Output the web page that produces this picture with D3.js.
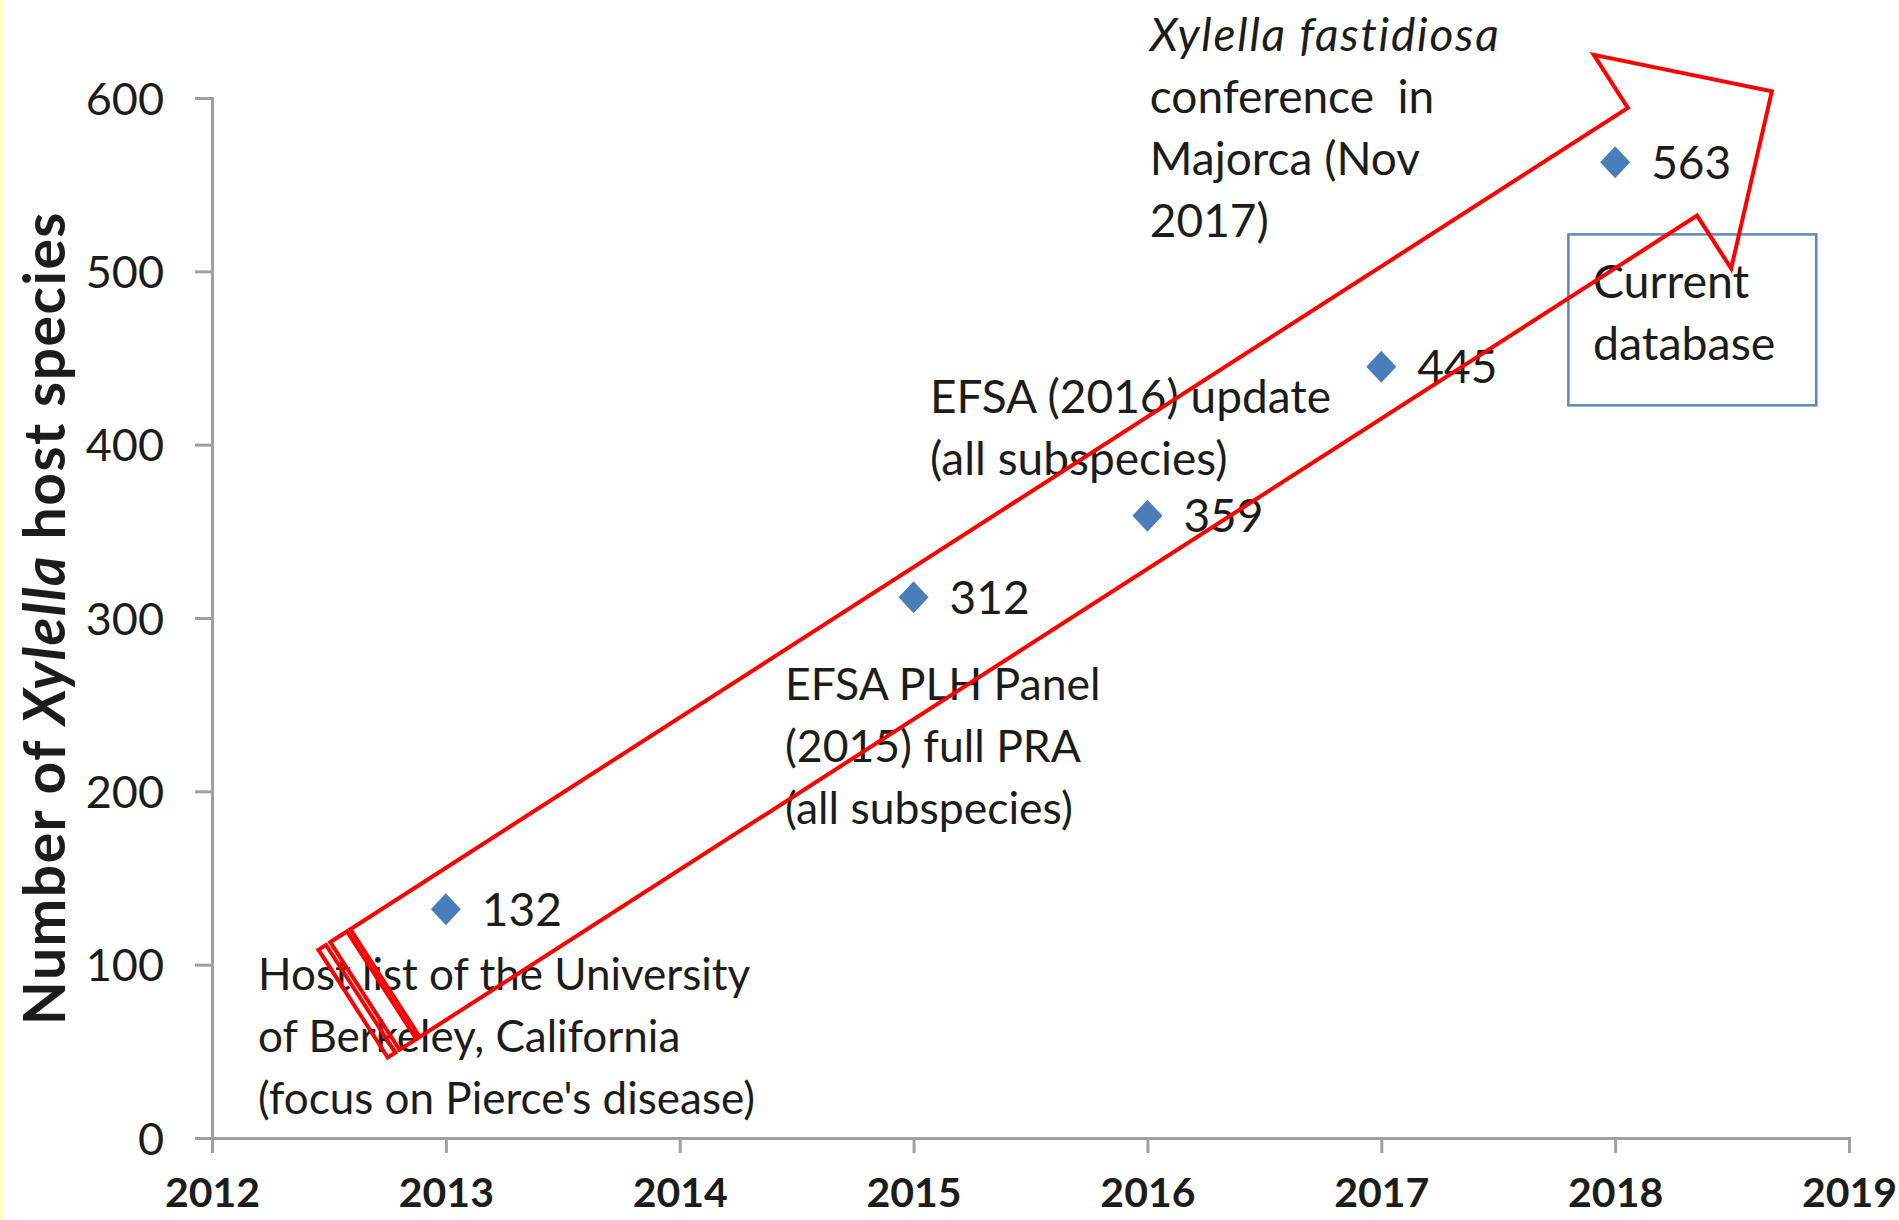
<!DOCTYPE html>
<html>
<head>
<meta charset="utf-8">
<script src="https://cdn.jsdelivr.net/npm/d3@7"></script>
<style>
  html, body { margin: 0; padding: 0; background: #fff; }
  svg { display: block; font-family: Lato, "Open Sans", sans-serif; }
</style>
</head>
<body>
<div id="chart"></div>
<script>
// data
const years = [2013, 2015, 2016, 2017, 2018];
const hostCounts = [132, 312, 359, 445, 563];
const xTickYears = [2012, 2013, 2014, 2015, 2016, 2017, 2018, 2019];
const yTickValues = [0, 100, 200, 300, 400, 500, 600];

const noteBerkeley = ["Host list of the University", "of Berkeley, California", "(focus on Pierce's disease)"];
const notePanel = ["EFSA PLH Panel", "(2015) full PRA", "(all subspecies)"];
const noteUpdate = ["EFSA (2016) update", "(all subspecies)"];
const noteMajorca = ["Xylella fastidiosa", "conference  in", "Majorca (Nov", "2017)"];
const noteCurrent = ["Current", "database"];

// layout
const width = 1899, height = 1220;
const margin = {top: 98, right: 50, bottom: 82, left: 212};
const axisColor = "#a0a0a0";
const textColor = "#1c1c1c";
const markerColor = "#4a7ebb";
const lineStep = 62;

const svg = d3.select("#chart").append("svg")
    .attr("width", width)
    .attr("height", height);

svg.append("rect").attr("width", width).attr("height", height).attr("fill", "#fff");
// thin yellow strip at the left edge of the slide
svg.append("rect").attr("width", 4).attr("height", height).attr("fill", "#ffffc4");

const x = d3.scaleLinear()
    .domain([2012, 2019])
    .range([margin.left, width - margin.right]);

const y = d3.scaleLinear()
    .domain([0, 600])
    .range([height - margin.bottom, margin.top]);

// axes
const xAxis = svg.append("g")
    .attr("transform", "translate(0," + y(0) + ")")
    .call(d3.axisBottom(x).tickValues(xTickYears).tickFormat(d3.format("d"))
        .tickSize(15).tickPadding(25));

const yAxis = svg.append("g")
    .attr("transform", "translate(" + x(2012) + ",0)")
    .call(d3.axisLeft(y).tickValues(yTickValues).tickSize(17).tickPadding(31));

[xAxis, yAxis].forEach(function(a) {
    a.select(".domain").attr("stroke", axisColor).attr("stroke-width", 3);
    a.selectAll(".tick line").attr("stroke", axisColor).attr("stroke-width", 3);
    a.selectAll("text").attr("fill", textColor).attr("font-family", "Lato");
});
xAxis.selectAll("text").attr("font-size", 41).attr("font-weight", "bold");
yAxis.selectAll("text").attr("font-size", 45).attr("dy", "0.36em");

// y axis title
const title = svg.append("text")
    .attr("transform", "translate(44," + (y(300)) + ") rotate(-90)")
    .attr("text-anchor", "middle")
    .attr("dy", "0.36em")
    .attr("font-size", 57)
    .attr("letter-spacing", 1.5)
    .attr("font-weight", "bold")
    .attr("fill", textColor);
title.append("tspan").text("Number of ");
title.append("tspan").attr("font-style", "italic").text("Xylella");
title.append("tspan").text(" host species");

// text boxes
function note(lines, year, value, size, italicFirst) {
    const t = svg.append("text")
        .attr("x", x(year))
        .attr("y", y(value))
        .attr("font-size", size)
        .attr("fill", textColor)
        .style("white-space", "pre");
    t.selectAll("tspan")
        .data(lines)
        .enter().append("tspan")
        .attr("x", x(year))
        .attr("dy", function(d, i) { return i === 0 ? 0 : lineStep; })
        .attr("font-style", function(d, i) { return italicFirst && i === 0 ? "italic" : null; })
        .attr("letter-spacing", function(d, i) { return italicFirst && i === 0 ? 1.8 : null; })
        .text(function(d) { return d; });
}

note(noteBerkeley, 2012.197, 85.3, 44);
note(notePanel, 2014.45, 252.6, 44.5);
note(noteUpdate, 2015.07, 418, 46);
note(noteMajorca, 2016.01, 627.4, 46, true);

// "Current database" box
svg.append("rect")
    .attr("x", x(2017.80))
    .attr("y", y(521.3))
    .attr("width", x(2018.86) - x(2017.80))
    .attr("height", y(422.7) - y(521.3))
    .attr("fill", "none")
    .attr("stroke", "#5b87bf")
    .attr("stroke-width", 2.5);
note(noteCurrent, 2017.905, 484.4, 46.5);

// data points
const pts = d3.zip(years, hostCounts);

svg.append("g").selectAll("path")
    .data(pts)
    .enter().append("path")
    .attr("transform", function(d) { return "translate(" + x(d[0]) + "," + y(d[1]) + ")"; })
    .attr("d", "M0,-16L15,0L0,16L-15,0Z")
    .attr("fill", markerColor);

svg.append("g").selectAll("text")
    .data(pts)
    .enter().append("text")
    .attr("x", function(d) { return x(d[0]) + 36; })
    .attr("y", function(d) { return y(d[1]); })
    .attr("dy", "0.36em")
    .attr("font-size", 46)
    .attr("fill", textColor)
    .text(function(d) { return d[1]; });

// red striped arrow
const arrowFrom = [2012.74, 89.4];
const arrowTo = [2018.67, 603.8];
const x0 = x(arrowFrom[0]), y0 = y(arrowFrom[1]);
const x1 = x(arrowTo[0]), y1 = y(arrowTo[1]);
const len = Math.hypot(x1 - x0, y1 - y0);
const ang = Math.atan2(y1 - y0, x1 - x0) * 180 / Math.PI;
const bodyHalf = 64, headHalf = 127, headLen = 130;
const neck = len - headLen;

const arrow = svg.append("g")
    .attr("transform", "translate(" + x0 + "," + y0 + ") rotate(" + ang + ")")
    .attr("fill", "none")
    .attr("stroke", "#ff0000")
    .attr("stroke-width", 4)
    .attr("stroke-linejoin", "miter");

arrow.append("path")
    .attr("d", d3.line()([
        [0, -bodyHalf], [neck, -bodyHalf], [neck, -headHalf], [len, 0],
        [neck, headHalf], [neck, bodyHalf], [0, bodyHalf]
    ]) + "Z");

[[-38, 9], [-24, 20]].forEach(function(s) {
    arrow.append("rect")
        .attr("x", s[0])
        .attr("y", -bodyHalf)
        .attr("width", s[1])
        .attr("height", bodyHalf * 2);
});
</script>
</body>
</html>
